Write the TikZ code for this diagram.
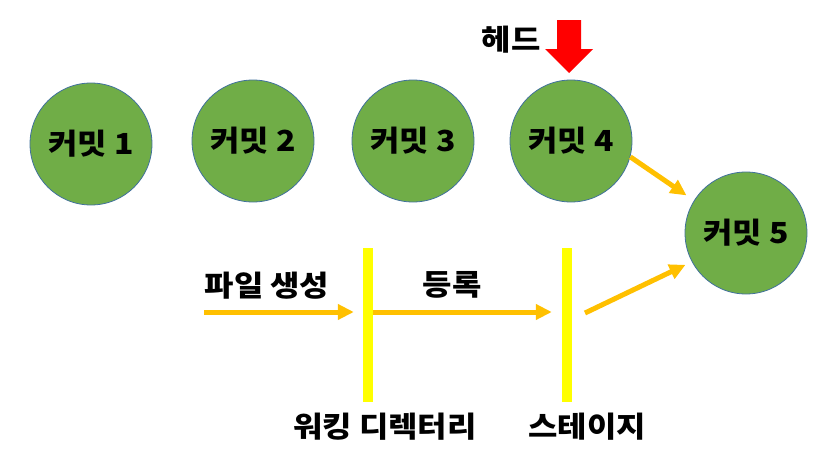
\documentclass[tikz,border=0pt]{standalone}
\usepackage{fontspec}
\setmainfont{Noto Sans CJK KR}[FakeStretch = 1.1]
\usetikzlibrary{arrows.meta}

\definecolor{commitgreen}{HTML}{70AD47}
\definecolor{commitedge}{HTML}{41719C}
\definecolor{flowyellow}{HTML}{FFC000}
\definecolor{baryellow}{HTML}{FFFF00}
\definecolor{headred}{HTML}{FF0000}

\tikzset{
  commit/.style = {circle, minimum size = 122pt, inner sep = 0pt,
                   fill = commitgreen, draw = commitedge, line width = 0.8pt},
  area/.style   = {rectangle, minimum width = 10pt, minimum height = 154pt,
                   inner sep = 0pt, fill = baryellow},
  flow/.style   = {draw = flowyellow, line width = 5pt,
                   -{Triangle[length = 16pt, width = 15pt]}},
  label/.style  = {inner sep = 0pt}
}

\begin{document}
\begin{tikzpicture}[x = 1pt, y = -1pt,
    every node/.append style = {font = \fontsize{29}{32}\selectfont\bfseries}]
      \useasboundingbox (0, 0) rectangle (835, 453);
      % commits
      \node[commit] (c1) at (91, 144) {커밋 1};
      \node[commit] (c2) at (253, 141) {커밋 2};
      \node[commit] (c3) at (413, 141) {커밋 3};
      \node[commit] (c4) at (571, 141) {커밋 4};
      \node[commit] (c5) at (746, 233) {커밋 5};
      % head marker
      \fill[headred] (557, 20) -- (581, 20) -- (581, 49) -- (593, 49)
            -- (569, 73) -- (545, 49) -- (557, 49) -- cycle;
      \node[label] (head) at (511, 40) {헤드};
      % working directory and stage
      \node[area] (wd) at (368, 325) {};
      \node[area] (stage) at (567, 325) {};
      \node[label] (wdtext) at (385, 427) {워킹 디렉터리};
      \node[label] (stagetext) at (587, 427) {스테이지};
      \coordinate (new) at (204, 312);
      \coordinate (out) at (585, 313);
      \draw[flow, shorten > = 9pt] (new) -- (new -| wd.west);
      \draw[flow, shorten > = 10pt] (wd.east |- new) -- (stage.west |- new);
      \draw[flow, shorten > = 7pt] (out) -- (c5.208);
      \draw[flow, shorten > = 9pt] (c4.-15) -- (c5.148);
      \node[label] (create) at (267, 286) {파일 생성};
      \node[label] (add) at (452, 285) {등록};
    \end{tikzpicture}
\end{document}
